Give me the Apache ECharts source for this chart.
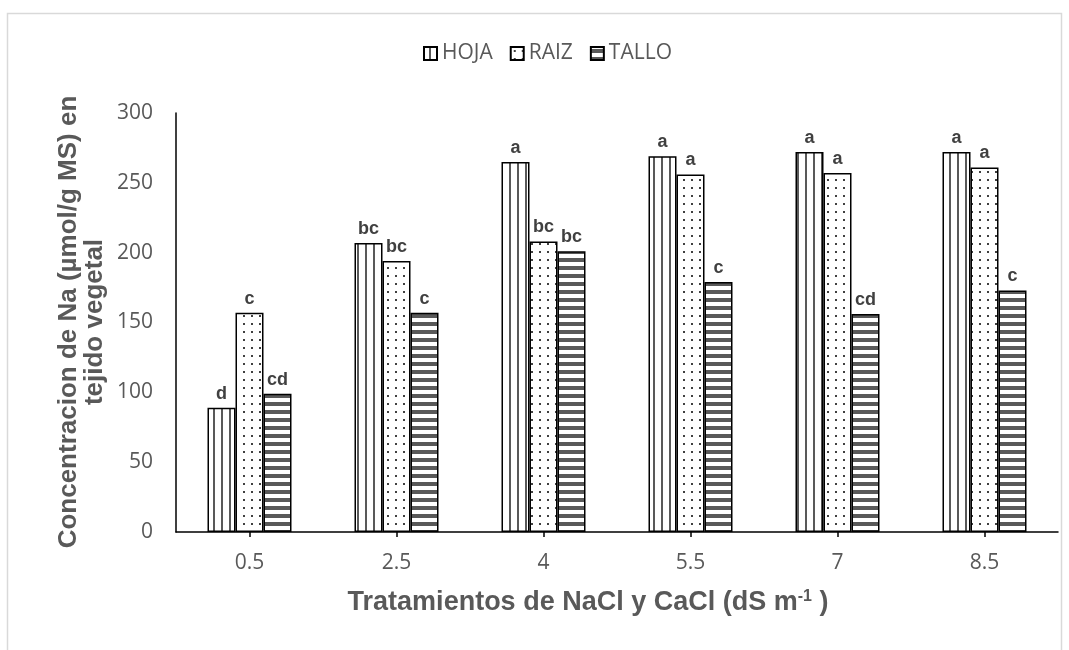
<!DOCTYPE html>
<html><head><meta charset="utf-8">
<script src="https://cdn.jsdelivr.net/npm/echarts@6/dist/echarts.min.js"></script>
<style>html,body{margin:0;padding:0;background:#fff}#c{width:1069px;height:650px}</style>
</head><body><div id="c"></div>
<script>
const categories = ['0.5', '2.5', '4', '5.5', '7', '8.5'];
const hoja  = [89, 207, 265, 269, 272, 272];
const raiz  = [157, 194, 208, 256, 257, 261];
const tallo = [99, 157, 201, 179, 156, 173];
const hojaLetters  = ['d', 'bc', 'a', 'a', 'a', 'a'];
const raizLetters  = ['c', 'bc', 'bc', 'a', 'a', 'a'];
const talloLetters = ['cd', 'c', 'bc', 'c', 'cd', 'c'];
const yTicks = [0, 50, 100, 150, 200, 250, 300];

function mk(w, h, draw) {
  const c = document.createElement('canvas'); c.width = w; c.height = h;
  const x = c.getContext('2d'); x.fillStyle = '#fff'; x.fillRect(0, 0, w, h); draw(x); return c;
}
const vLines = mk(8, 8, x => { x.fillStyle = '#595959'; x.fillRect(5, 0, 2, 8); });
const dots = mk(8, 8, x => { x.fillStyle = '#404040'; x.fillRect(3, 3, 2, 2); });
const hLines = mk(8, 8, x => { x.fillStyle = '#595959'; x.fillRect(0, 2, 8, 4); });

const chart = echarts.init(document.getElementById('c'));
const lblFont = { show: true, position: 'top', distance: 5, fontFamily: 'Liberation Sans', fontWeight: 'bold', fontSize: 18, color: '#404040' };
function ser(name, data, letters, pat) {
  return {
    name, type: 'bar', data, barWidth: 28, barGap: '0%',
    itemStyle: { color: { image: pat, repeat: 'repeat' }, borderColor: '#000', borderWidth: 1.5 },
    label: Object.assign({}, lblFont, { formatter: p => letters[p.dataIndex] })
  };
}
chart.setOption({
  animation: false,
  backgroundColor: '#fff',
  grid: { left: 176, right: 11, top: 113, bottom: 118 },
  legend: {
    left: 418, top: 38, itemWidth: 13, itemHeight: 13, itemGap: 17, icon: 'rect',
    textStyle: { fontFamily: 'Open Sans', fontSize: 21, color: '#595959', padding: [0, 0, 0, 0] },
    data: ['HOJA', 'RAIZ', 'TALLO']
  },
  xAxis: {
    type: 'category', data: categories,
    axisLine: { lineStyle: { color: '#000', width: 1.5 } },
    axisTick: { show: true, alignWithLabel: true, length: 5, lineStyle: { color: '#000', width: 1.5 } },
    axisLabel: { margin: 21, fontFamily: 'Open Sans', fontSize: 21, color: '#595959' }
  },
  yAxis: {
    type: 'value', min: yTicks[0], max: yTicks[yTicks.length - 1], interval: 50,
    axisLine: { show: true, lineStyle: { color: '#000', width: 1.5 } },
    axisTick: { show: false }, splitLine: { show: false },
    axisLabel: { margin: 23, fontFamily: 'Open Sans', fontSize: 21, color: '#595959' }
  },
  series: [
    ser('HOJA', hoja, hojaLetters, vLines),
    ser('RAIZ', raiz, raizLetters, dots),
    ser('TALLO', tallo, talloLetters, hLines)
  ],
  graphic: [
    { type: 'rect', shape: { x: 7.5, y: 13.5, width: 1054, height: 700 }, style: { fill: 'none', stroke: '#d9d9d9', lineWidth: 1.5 }, silent: true },
    { type: 'text', x: 82, y: 322, rotation: Math.PI / 2,
      style: { text: 'Concentracion de Na (µmol/g MS) en\ntejido vegetal', align: 'center', verticalAlign: 'middle',
        fontFamily: 'Liberation Sans', fontWeight: 'bold', fontSize: 26, lineHeight: 26, fill: '#595959' } },
    { type: 'text', x: 588, y: 603,
      style: { text: 'Tratamientos de NaCl y CaCl (dS m{s|-1} )', align: 'center', verticalAlign: 'middle',
        fontFamily: 'Liberation Sans', fontWeight: 'bold', fontSize: 27, fill: '#595959',
        rich: { s: { fontFamily: 'Liberation Sans', fontWeight: 'bold', fontSize: 16, fill: '#595959', padding: [0, 0, 12, 0] } } } }
  ]
});
</script></body></html>
